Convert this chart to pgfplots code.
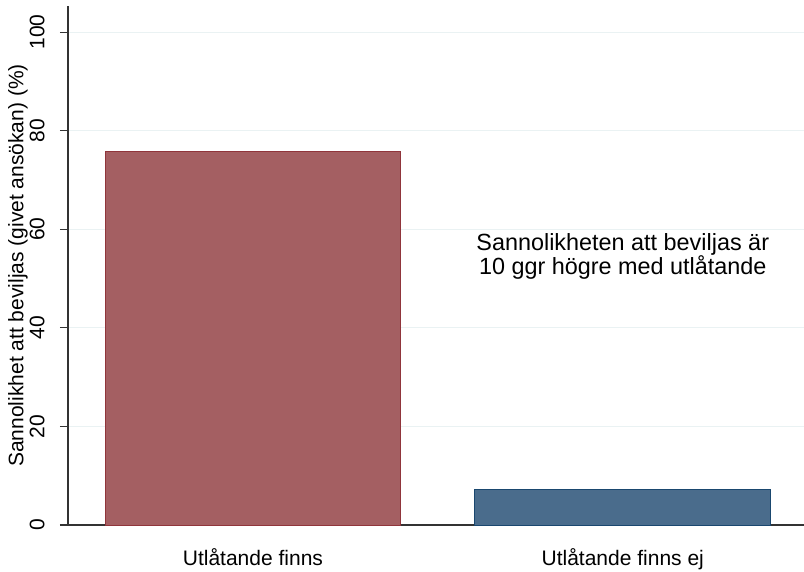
\documentclass[border=0pt]{standalone}
\usepackage{fontspec}
\setmainfont{Liberation Sans}
\usepackage{pgfplots}
\pgfplotsset{compat=1.18}
\definecolor{barA}{HTML}{A45F62}
\definecolor{barAline}{HTML}{90353B}
\definecolor{barB}{HTML}{4A6C8C}
\definecolor{barBline}{HTML}{1A476F}
\definecolor{gridc}{HTML}{EAF2F3}
\definecolor{axc}{HTML}{333333}
\begin{document}
\begin{tikzpicture}
\path[use as bounding box] (-68pt,-46pt) rectangle (736pt,525pt);
\begin{axis}[
  at={(0,0)}, anchor=south west,
  scale only axis, width=736pt, height=519pt,
  xmin=-0.5, xmax=1.49, ymin=0, ymax=105.3,
  axis x line=bottom, axis y line=left,
  axis line style={-, draw=axc, line width=1.1pt},
  ytick={0,20,40,60,80,100},
  xtick={0,1}, xticklabels={Utlåtande finns, Utlåtande finns ej},
  xtick style={draw=none},
  ytick style={draw=axc, line width=1.1pt},
  tick align=outside, major tick length=8pt,
  ymajorgrids, major grid style={draw=gridc, line width=1pt},
  /pgf/number format/assume math mode=true,
  tick label style={font=\fontsize{21}{24}\selectfont},
  yticklabel style={xshift=-12pt, rotate=90, anchor=south},
  xticklabel style={yshift=-12pt},
  ylabel={Sannolikhet att beviljas (givet ansökan) (\%)},
  every axis y label/.style={at={(axis description cs:0,0.5)}, xshift=-50pt, rotate=90, anchor=center, font=\fontsize{21}{24}\selectfont},
  clip=false,
]
\addplot[ybar, bar width=0.8, bar shift=0pt, fill=barA, draw=barAline, line width=0.8pt] coordinates {(0,75.7)};
\addplot[ybar, bar width=0.8, bar shift=0pt, fill=barB, draw=barBline, line width=0.8pt] coordinates {(1,7.2)};
\node[align=center, font=\fontsize{23.4}{24}\selectfont] at (axis cs:1,54.4) {Sannolikheten att beviljas är\\ 10 ggr högre med utlåtande};
\end{axis}
\end{tikzpicture}
\end{document}
